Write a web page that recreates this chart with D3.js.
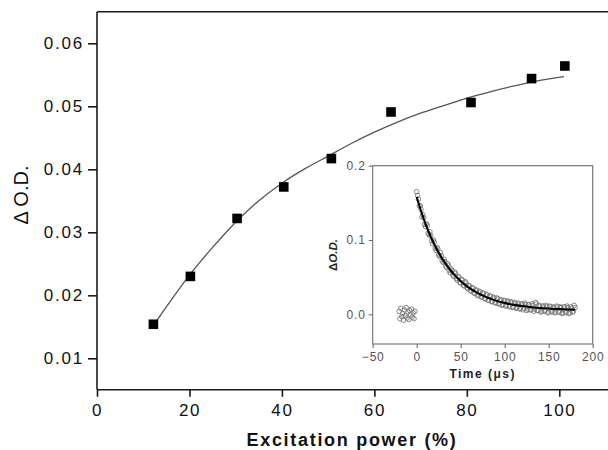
<!DOCTYPE html>
<html><head><meta charset="utf-8">
<script src="https://cdn.jsdelivr.net/npm/d3@7"></script>
<style>
body{margin:0;background:#fff;}
svg{display:block;font-family:"Liberation Sans",Arial,sans-serif;}
</style></head>
<body>
<svg id="c" width="608" height="450"></svg>
<script>
// ---- Main chart data ----
const powerX = [12.2, 20.2, 30.3, 40.4, 50.7, 63.6, 80.9, 94.0, 101.2];
const odY = [0.0154, 0.0230, 0.0322, 0.0372, 0.0417, 0.0491, 0.0506, 0.0544, 0.0564];
const fitX = [12, 16, 20, 25, 30, 35, 40, 45, 50, 55, 60, 65, 70, 75, 80, 85, 90, 95, 101];
const fitY = [0.0150, 0.0192, 0.0232, 0.0276, 0.0316, 0.0350, 0.0378, 0.0401, 0.0421, 0.0441, 0.0459, 0.0475, 0.0489, 0.0501, 0.0513, 0.0523, 0.0532, 0.0540, 0.0547];
const xTicks = [0, 20, 40, 60, 80, 100];
const yTicks = [0.01, 0.02, 0.03, 0.04, 0.05, 0.06];

// ---- Inset data ----
const preT = [-20,-19,-18,-17,-16,-15,-14,-13,-12,-11,-10,-9,-8,-7,-6,-5,-4,-3,-2];
const preV = [0.004,-0.006,0.008,-0.003,0.001,-0.008,0.006,-0.002,0.009,-0.005,0.003,-0.007,0.005,-0.001,0.007,-0.004,0.002,-0.006,0.004];
const decayTA = d3.range(0, 181, 2);
const decayVA = [0.165,0.155,0.146,0.131,0.130,0.118,0.120,0.107,0.106,0.095,0.097,0.086,0.088,0.078,0.079,0.070,0.071,0.063,0.066,0.056,
 0.059,0.051,0.055,0.046,0.050,0.042,0.046,0.038,0.042,0.034,0.038,0.031,0.035,0.028,0.032,0.025,0.030,0.023,0.028,0.021,
 0.026,0.019,0.024,0.017,0.022,0.015,0.021,0.014,0.019,0.013,0.018,0.012,0.017,0.011,0.016,0.010,0.015,0.009,0.014,0.008,
 0.014,0.008,0.013,0.007,0.013,0.006,0.012,0.007,0.014,0.005,0.011,0.004,0.011,0.005,0.010,0.003,0.010,0.004,0.009,0.003,
 0.010,0.003,0.009,0.002,0.010,0.003,0.009,0.002,0.008,0.004,0.009];
const decayTB = d3.range(1, 180, 2);
const decayVB = [0.160,0.146,0.141,0.134,0.121,0.122,0.109,0.111,0.099,0.100,0.089,0.090,0.080,0.083,0.072,0.074,0.065,0.068,0.059,0.061,
 0.053,0.057,0.048,0.051,0.043,0.047,0.039,0.044,0.036,0.039,0.032,0.036,0.029,0.033,0.026,0.031,0.024,0.029,0.021,0.027,
 0.019,0.025,0.017,0.023,0.016,0.022,0.014,0.020,0.012,0.019,0.011,0.018,0.010,0.017,0.009,0.016,0.008,0.015,0.007,0.014,
 0.006,0.015,0.005,0.013,0.006,0.014,0.004,0.016,0.005,0.012,0.003,0.011,0.004,0.012,0.002,0.011,0.003,0.010,0.002,0.011,
 0.003,0.010,0.001,0.010,0.002,0.011,0.001,0.010,0.003,0.012];
const decayFitT = [0,5,10,15,20,25,30,35,40,45,50,55,60,65,70,75,80,85,90,95,100,110,120,130,140,150,160,170,180];
const decayFitV = [0.158,0.1387,0.1218,0.1070,0.0941,0.0828,0.0730,0.0644,0.0569,0.0503,0.0446,0.0396,0.0352,0.0314,0.0281,0.0251,0.0226,0.0204,0.0184,0.0167,0.0153,0.0128,0.0110,0.0096,0.0085,0.0077,0.0070,0.0066,0.0062];
const insetXTicks = [-50, 0, 50, 100, 150, 200];
const insetYTicks = [0.0, 0.1, 0.2];

const svg = d3.select("#c");

// ---- Main scales ----
const x = d3.scaleLinear().domain([0, 100]).range([97, 559.3]);
const y = d3.scaleLinear().domain([0.01, 0.06]).range([358.3, 43.3]);
const yBottom = y(0.005), yTop = y(0.065);

const axCol = "#1a1a1a";
svg.append("line").attr("x1", 97).attr("x2", 97).attr("y1", yTop).attr("y2", yBottom).attr("stroke", axCol).attr("stroke-width", 1.6);
svg.append("line").attr("x1", 97).attr("x2", 608).attr("y1", yBottom).attr("y2", yBottom).attr("stroke", axCol).attr("stroke-width", 1.6);
svg.append("line").attr("x1", 97).attr("x2", 608).attr("y1", yTop).attr("y2", yTop).attr("stroke", axCol).attr("stroke-width", 1.6);

const xAxis = svg.append("g").attr("transform", `translate(0,${yBottom})`)
  .call(d3.axisBottom(x).tickValues(xTicks).tickSize(7).tickSizeOuter(0).tickFormat(d3.format("d")));
xAxis.select(".domain").remove();
xAxis.selectAll("line").attr("stroke", axCol).attr("stroke-width", 1.6);
xAxis.selectAll("text").attr("font-size", 17).attr("letter-spacing", 1.6).attr("fill", "#111").attr("dy", "0.71em").attr("y", 14);

const yAxis = svg.append("g").attr("transform", `translate(97,0)`)
  .call(d3.axisLeft(y).tickValues(yTicks).tickSize(9).tickSizeOuter(0).tickFormat(d3.format(".2f")));
yAxis.select(".domain").remove();
yAxis.selectAll("line").attr("stroke", axCol).attr("stroke-width", 1.6);
yAxis.selectAll("text").attr("font-size", 17).attr("letter-spacing", 1.8).attr("fill", "#111").attr("x", -13);

svg.append("text").attr("x", 352).attr("y", 446).attr("text-anchor", "middle")
  .attr("font-size", 18).attr("font-weight", "bold").attr("letter-spacing", 1.7).attr("fill", "#111")
  .text("Excitation power (%)");
svg.append("text").attr("transform", "translate(28,195) rotate(-90)").attr("text-anchor", "middle")
  .attr("font-size", 20).attr("fill", "#111").text("\u0394 O.D.");

const fitData = fitX.map((v, i) => [v, fitY[i]]);
svg.append("path").datum(fitData)
  .attr("d", d3.line().x(d => x(d[0])).y(d => y(d[1])).curve(d3.curveMonotoneX))
  .attr("fill", "none").attr("stroke", "#555").attr("stroke-width", 1.3);

const pts = powerX.map((v, i) => [v, odY[i]]);
svg.selectAll("rect.pt").data(pts).join("rect").attr("class", "pt")
  .attr("x", d => x(d[0]) - 4.8).attr("y", d => y(d[1]) - 4.8)
  .attr("width", 9.6).attr("height", 9.6).attr("fill", "#000");

// ---- Inset ----
const ix = d3.scaleLinear().domain([-50, 200]).range([372.7, 592.7]);
const iy = d3.scaleLinear().domain([-0.04, 0.2]).range([344, 165.7]);
const inCol = "#6e6e6e";
svg.append("rect").attr("x", ix(-50)).attr("y", iy(0.2)).attr("width", ix(200) - ix(-50)).attr("height", iy(-0.04) - iy(0.2))
  .attr("fill", "none").attr("stroke", inCol).attr("stroke-width", 1.1);

const ixAxis = svg.append("g").attr("transform", `translate(0,${iy(-0.04)})`)
  .call(d3.axisBottom(ix).tickValues(insetXTicks).tickSize(4).tickSizeOuter(0).tickFormat(d3.format("d")));
ixAxis.select(".domain").remove();
ixAxis.selectAll("line").attr("stroke", inCol).attr("stroke-width", 1.1);
ixAxis.selectAll("text").attr("font-size", 12).attr("letter-spacing", 0.8).attr("fill", "#555").attr("y", 8);

const iyAxis = svg.append("g").attr("transform", `translate(${ix(-50)},0)`)
  .call(d3.axisLeft(iy).tickValues(insetYTicks).tickSize(4).tickSizeOuter(0).tickFormat(d3.format(".1f")));
iyAxis.select(".domain").remove();
iyAxis.selectAll("line").attr("stroke", inCol).attr("stroke-width", 1.1);
iyAxis.selectAll("text").attr("font-size", 12).attr("letter-spacing", 0.8).attr("fill", "#555").attr("x", -7);

svg.append("text").attr("x", 482.7).attr("y", 378).attr("text-anchor", "middle")
  .attr("font-size", 12).attr("font-weight", "bold").attr("letter-spacing", 1.5).attr("fill", "#222")
  .text("Time (\u03bcs)");
const iyl = svg.append("text").attr("transform", "translate(337,255) rotate(-90)").attr("text-anchor", "middle")
  .attr("font-size", 11.5).attr("font-weight", "bold").attr("fill", "#222");
iyl.append("tspan").text("\u0394");
iyl.append("tspan").attr("font-style", "italic").text("O.D.");

const scat = [];
preT.forEach((t, i) => scat.push([t, preV[i]]));
decayTA.forEach((t, i) => scat.push([t, decayVA[i]]));
decayTB.forEach((t, i) => scat.push([t, decayVB[i]]));
svg.append("g").selectAll("circle").data(scat).join("circle")
  .attr("cx", d => ix(d[0])).attr("cy", d => iy(d[1])).attr("r", 2.3)
  .attr("fill", "none").attr("stroke", "#7a7a7a").attr("stroke-width", 0.9);

const dfit = decayFitT.map((t, i) => [t, decayFitV[i]]);
svg.append("path").datum(dfit)
  .attr("d", d3.line().x(d => ix(d[0])).y(d => iy(d[1])).curve(d3.curveMonotoneX))
  .attr("fill", "none").attr("stroke", "#000").attr("stroke-width", 2);
</script>
</body></html>
